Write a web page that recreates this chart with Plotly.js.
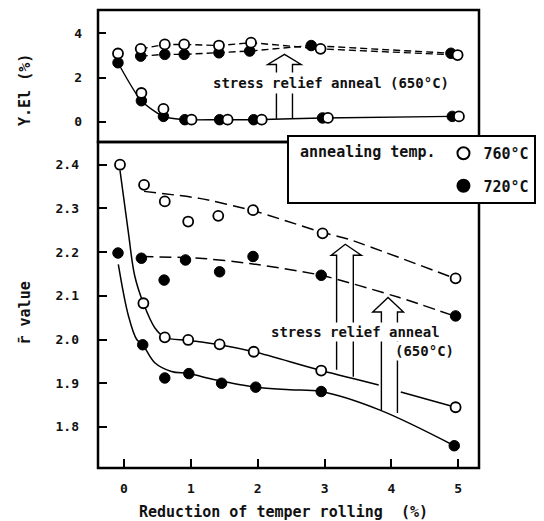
<!DOCTYPE html>
<html>
<head>
<meta charset="utf-8">
<script src="https://cdn.plot.ly/plotly-3.0.1.min.js"></script>
<style>html,body{margin:0;padding:0;background:#fff;}#chart{width:544px;height:521px;}</style>
</head>
<body>
<div id="chart"></div>
<script>
// ---------- DATA ----------
// Lower panel: r-bar value
const r760_asRolled_x = [-0.06, 0.29, 0.61, 0.96, 1.43, 1.94, 2.95, 4.96];
const r760_asRolled_y = [2.400, 2.083, 2.005, 1.999, 1.989, 1.972, 1.929, 1.845];
const r760_sra_x = [0.30, 0.61, 0.96, 1.41, 1.93, 2.97, 4.96];
const r760_sra_y = [2.354, 2.316, 2.270, 2.283, 2.296, 2.243, 2.140];
const r720_asRolled_x = [-0.09, 0.28, 0.61, 0.97, 1.46, 1.97, 2.95, 4.94];
const r720_asRolled_y = [2.198, 1.988, 1.912, 1.922, 1.900, 1.891, 1.881, 1.757];
const r720_sra_x = [0.26, 0.60, 0.92, 1.43, 1.93, 2.95, 4.96];
const r720_sra_y = [2.186, 2.136, 2.182, 2.155, 2.190, 2.147, 2.054];

// Lower panel: hand-drawn trend curves
const r760_asRolled_fit_x = [-0.06, 0.065, 0.16, 0.29, 0.46, 0.61, 0.97, 1.43, 1.94, 2.95, 3.81, null, 4.14, 4.96];
const r760_asRolled_fit_y = [2.387, 2.245, 2.146, 2.083, 2.027, 2.005, 1.998, 1.988, 1.972, 1.929, 1.896, null, 1.880, 1.845];
const r720_asRolled_fit_x = [-0.085, 0.065, 0.19, 0.28, 0.46, 0.71, 0.97, 1.36, 1.97, 2.48, 2.95, 3.82, 4.94];
const r720_asRolled_fit_y = [2.172, 2.055, 2.000, 1.988, 1.947, 1.927, 1.922, 1.908, 1.891, 1.885, 1.881, 1.839, 1.757];
const r760_sra_fit_x = [0.30, 1.13, 1.93, 2.97, 3.35, 4.93];
const r760_sra_fit_y = [2.339, 2.323, 2.295, 2.245, 2.230, 2.141];
const r720_sra_fit_x = [0.26, 1.13, 1.88, 2.95, 4.12, 4.94];
const r720_sra_fit_y = [2.190, 2.186, 2.174, 2.147, 2.096, 2.054];

// Upper panel: yield elongation Y.El (%)
const yel760_asRolled_x = [-0.09, 0.26, 0.59, 1.01, 1.55, 2.06, 3.05, 5.01];
const yel760_asRolled_y = [3.09, 1.30, 0.58, 0.09, 0.09, 0.09, 0.17, 0.24];
const yel720_asRolled_x = [-0.09, 0.26, 0.59, 0.91, 1.43, 1.94, 2.97, 4.91];
const yel720_asRolled_y = [2.67, 0.95, 0.24, 0.09, 0.09, 0.09, 0.17, 0.24];
const yel760_sra_x = [0.25, 0.61, 0.90, 1.42, 1.90, 2.94, 4.99];
const yel760_sra_y = [3.30, 3.50, 3.50, 3.45, 3.58, 3.30, 3.02];
const yel720_sra_x = [0.25, 0.61, 0.90, 1.42, 1.88, 2.80, 4.89];
const yel720_sra_y = [2.97, 3.05, 3.05, 3.12, 3.20, 3.45, 3.10];

// Tick labels
const xTicks = [0, 1, 2, 3, 4, 5];
const rTicks = [1.8, 1.9, 2.0, 2.1, 2.2, 2.3, 2.4];
const yelTicks = [0, 2, 4];

// Texts
const legendTitle = '\u00a0annealing temp.';
const name760 = '760°C';
const name720 = '720°C';
const sraLabel = 'stress relief anneal (650°C)';
const sraLabel1 = 'stress relief anneal';
const sraLabel2 = '(650°C)';
const xTitle = 'Reduction of temper rolling  (%)';
const yTopTitle = 'Y.El (%)';
const yBotTitle = 'r\u0304 value';

// ---------- STYLE ----------
const FONT = '"DejaVu Sans Mono", monospace';
const INK = '#000';
const mOpen = {symbol: 'circle', size: 10, color: '#fff', line: {color: INK, width: 1.8}};
const mFill = {symbol: 'circle', size: 10.5, color: INK, line: {color: INK, width: 1}};
const solid = {color: INK, width: 1.5, shape: 'spline', smoothing: 1};
const dashB = {color: INK, width: 1.5, dash: '12px,6px', shape: 'spline', smoothing: 0.6};
const dashT = {color: INK, width: 1.4, dash: '7px,4px'};

const traces = [
  // lower panel curves
  {x: r760_asRolled_fit_x, y: r760_asRolled_fit_y, mode: 'lines', line: solid, connectgaps: false, yaxis: 'y', showlegend: false},
  {x: r720_asRolled_fit_x, y: r720_asRolled_fit_y, mode: 'lines', line: solid, yaxis: 'y', showlegend: false},
  {x: r760_sra_fit_x, y: r760_sra_fit_y, mode: 'lines', line: dashB, yaxis: 'y', showlegend: false},
  {x: r720_sra_fit_x, y: r720_sra_fit_y, mode: 'lines', line: dashB, yaxis: 'y', showlegend: false},
  // upper panel lines
  {x: yel720_asRolled_x, y: yel720_asRolled_y, mode: 'lines', line: {color: INK, width: 1.4, shape: 'spline', smoothing: 0.7}, yaxis: 'y2', showlegend: false},
  {x: yel760_sra_x, y: yel760_sra_y, mode: 'lines', line: dashT, yaxis: 'y2', showlegend: false},
  {x: yel720_sra_x, y: yel720_sra_y, mode: 'lines', line: dashT, yaxis: 'y2', showlegend: false},
  // filled markers
  {x: r720_asRolled_x, y: r720_asRolled_y, mode: 'markers', marker: mFill, yaxis: 'y', name: name720, showlegend: true, legendgroup: 'b', legendrank: 2},
  {x: r720_sra_x, y: r720_sra_y, mode: 'markers', marker: mFill, yaxis: 'y', showlegend: false},
  {x: yel720_asRolled_x, y: yel720_asRolled_y, mode: 'markers', marker: mFill, yaxis: 'y2', showlegend: false},
  {x: yel720_sra_x, y: yel720_sra_y, mode: 'markers', marker: mFill, yaxis: 'y2', showlegend: false},
  // open markers
  {x: r760_asRolled_x, y: r760_asRolled_y, mode: 'markers', marker: mOpen, yaxis: 'y', name: name760, showlegend: true, legendgroup: 'a', legendrank: 1},
  {x: r760_sra_x, y: r760_sra_y, mode: 'markers', marker: mOpen, yaxis: 'y', showlegend: false},
  {x: yel760_asRolled_x, y: yel760_asRolled_y, mode: 'markers', marker: mOpen, yaxis: 'y2', showlegend: false},
  {x: yel760_sra_x, y: yel760_sra_y, mode: 'markers', marker: mOpen, yaxis: 'y2', showlegend: false}
];

// hollow block arrows (annotation geometry)
function hollowArrow(a) {
  return 'M' + a.sl + ',' + a.bl + ' L' + a.sl + ',' + a.base + ' L' + a.hl + ',' + a.base +
         ' L' + a.tx + ',' + a.ty + ' L' + a.hr + ',' + a.base + ' L' + a.sr + ',' + a.base +
         ' L' + a.sr + ',' + a.br;
}
const arrowTop = {sl: 2.28, sr: 2.52, hl: 2.15, hr: 2.65, tx: 2.40, ty: 3.05, base: 2.59, bl: 0.13, br: 0.13};
const arrowBig = {sl: 3.18, sr: 3.43, hl: 3.10, hr: 3.55, tx: 3.31, ty: 2.218, base: 2.193, bl: 1.931, br: 1.915};
const arrowSmall = {sl: 3.85, sr: 4.09, hl: 3.72, hr: 4.18, tx: 3.95, ty: 2.096, base: 2.063, bl: 1.839, br: 1.832};

const SPLIT = 0.7118;
const frame = {color: INK, width: 2.5};
const shapes = [
  {type: 'rect', xref: 'paper', yref: 'paper', x0: 0, x1: 1, y0: SPLIT, y1: 1, line: frame},
  {type: 'rect', xref: 'paper', yref: 'paper', x0: 0, x1: 1, y0: 0, y1: SPLIT, line: frame},
  {type: 'path', xref: 'x', yref: 'y2', path: hollowArrow(arrowTop), line: {color: INK, width: 1.4}},
  {type: 'path', xref: 'x', yref: 'y', path: hollowArrow(arrowBig), line: {color: INK, width: 1.4}},
  {type: 'path', xref: 'x', yref: 'y', path: hollowArrow(arrowSmall), line: {color: INK, width: 1.4}}
];

const tfont = {family: FONT, size: 14, color: '#111', weight: 'bold'};
const titleFont = {family: FONT, size: 15, color: '#111', weight: 'bold'};
const annotations = [
  {xref: 'x', yref: 'y2', x: 3.10, y: 1.77, xanchor: 'center', yanchor: 'middle', text: sraLabel, showarrow: false, bgcolor: '#fff', font: tfont, borderpad: 2},
  {xref: 'x', yref: 'y', x: 3.47, y: 2.018, xanchor: 'center', yanchor: 'middle', text: sraLabel1, showarrow: false, bgcolor: '#fff', font: tfont, borderpad: 1},
  {xref: 'x', yref: 'y', x: 4.49, y: 1.973, xanchor: 'center', yanchor: 'middle', text: sraLabel2, showarrow: false, bgcolor: '#fff', font: tfont, borderpad: 1},
  {xref: 'paper', yref: 'paper', x: 0.487, y: -0.096, xanchor: 'center', yanchor: 'middle', text: xTitle, showarrow: false, font: titleFont},
  {xref: 'paper', yref: 'paper', x: -0.1916, y: 0.8253, xanchor: 'center', yanchor: 'middle', text: yTopTitle, textangle: -90, showarrow: false, font: titleFont},
  {xref: 'paper', yref: 'paper', x: -0.1916, y: 0.3373, xanchor: 'center', yanchor: 'middle', text: yBotTitle, textangle: -90, showarrow: false, font: titleFont}
];

const tickFont = {family: FONT, size: 13, color: '#111', weight: 'bold'};
const layout = {
  width: 544, height: 521,
  margin: {l: 98, r: 65, t: 10, b: 53, autoexpand: false},
  paper_bgcolor: '#fff', plot_bgcolor: '#fff',
  showlegend: true,
  legend: {
    x: 0.496, y: 0.727, xanchor: 'left', yanchor: 'top',
    bgcolor: '#fff', bordercolor: INK, borderwidth: 2,
    font: {family: FONT, size: 15, color: '#111', weight: 'bold'},
    title: {text: legendTitle, side: 'left', font: {family: FONT, size: 15, color: '#111', weight: 'bold'}},
    tracegroupgap: 10, itemsizing: 'constant', traceorder: 'grouped'
  },
  xaxis: {
    range: [-0.389, 5.31], tickvals: xTicks, ticktext: xTicks.map(String),
    ticks: 'inside', ticklen: 9, tickwidth: 2, tickcolor: INK,
    showline: false, showgrid: false, zeroline: false, anchor: 'y',
    tickfont: tickFont, ticklabelstandoff: 11
  },
  yaxis: {
    domain: [0, SPLIT], range: [1.706, 2.452],
    tickvals: rTicks, ticktext: rTicks.map(v => v.toFixed(1)),
    ticks: 'inside', ticklen: 9, tickwidth: 2, tickcolor: INK,
    showline: false, showgrid: false, zeroline: false,
    tickfont: tickFont, ticklabelstandoff: 18
  },
  yaxis2: {
    domain: [SPLIT, 1], range: [-0.92, 5.06],
    tickvals: yelTicks, ticktext: yelTicks.map(String),
    ticks: 'inside', ticklen: 8, tickwidth: 2, tickcolor: INK,
    showline: false, showgrid: false, zeroline: false, anchor: 'x',
    tickfont: tickFont, ticklabelstandoff: 15
  },
  shapes: shapes,
  annotations: annotations,
  hovermode: false
};

Plotly.newPlot('chart', traces, layout, {staticPlot: true, displayModeBar: false});
</script>
</body>
</html>
